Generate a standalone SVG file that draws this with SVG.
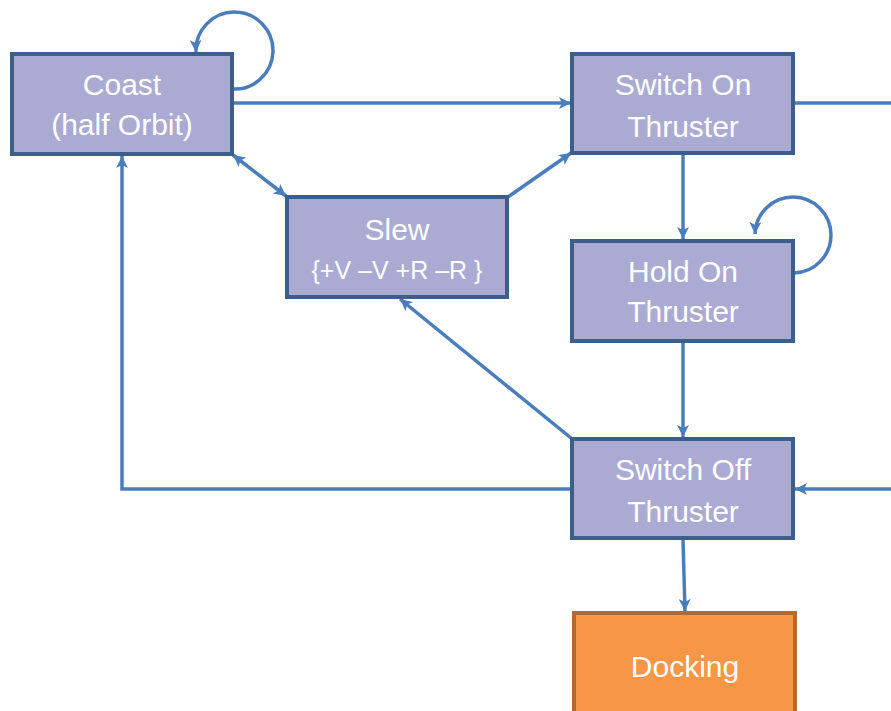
<svg xmlns="http://www.w3.org/2000/svg" width="891" height="711" viewBox="0 0 891 711">
<defs>
<marker id="ah" markerUnits="userSpaceOnUse" markerWidth="14" markerHeight="12" refX="12" refY="6" orient="auto-start-reverse">
<path d="M0,0 L12,6 L0,12 L3,6 Z" fill="#4A7EBB"/>
</marker>
</defs>
<style>
.node rect{fill:#AAAAD2;stroke:#3B5E8C;stroke-width:4}
.dock rect{fill:#F79646;stroke:#B5692F;stroke-width:4}
text{font-family:"Liberation Sans",Arial,sans-serif;font-size:30px;fill:#FFFFFF;text-anchor:middle}
.small{font-size:25px}
.conn path,.conn line{fill:none;stroke:#4A7EBB;stroke-width:3.5}
</style>
<rect width="891" height="711" fill="#FFFFFF"/>
<g class="conn" id="connectors">
<path d="M232,89 A38.5,38.5 0 1 0 196,52" marker-end="url(#ah)"/>
<line x1="234" y1="103" x2="571" y2="103" marker-end="url(#ah)"/>
<line x1="233" y1="155" x2="286" y2="196" marker-start="url(#ah)" marker-end="url(#ah)"/>
<line x1="508" y1="197" x2="571" y2="153" marker-end="url(#ah)"/>
<line x1="683" y1="155" x2="683" y2="239" marker-end="url(#ah)"/>
<path d="M794,273 A38,38 0 1 0 755,234" marker-end="url(#ah)"/>
<line x1="683" y1="343" x2="683" y2="437" marker-end="url(#ah)"/>
<line x1="571" y1="438" x2="400" y2="299" marker-end="url(#ah)"/>
<path d="M571,489 L122,489 L122,156" marker-end="url(#ah)"/>
<line x1="795" y1="103" x2="891" y2="103"/>
<line x1="891" y1="489" x2="795" y2="489" marker-end="url(#ah)"/>
<line x1="683" y1="540" x2="685" y2="611" marker-end="url(#ah)"/>
</g>
<g id="coast" class="node">
<rect x="12" y="54" width="220" height="100"/>
<text x="122" y="95">Coast</text>
<text x="122" y="135">(half Orbit)</text>
</g>
<g id="switch-on" class="node">
<rect x="572" y="54" width="221" height="99"/>
<text x="683" y="95">Switch On</text>
<text x="683" y="137">Thruster</text>
</g>
<g id="slew" class="node">
<rect x="287" y="197" width="220" height="100"/>
<text x="397" y="240">Slew</text>
<text class="small" x="397" y="279">{+V –V +R –R }</text>
</g>
<g id="hold-on" class="node">
<rect x="572" y="241" width="221" height="100"/>
<text x="683" y="282">Hold On</text>
<text x="683" y="322">Thruster</text>
</g>
<g id="switch-off" class="node">
<rect x="572" y="439" width="221" height="99"/>
<text x="683" y="480">Switch Off</text>
<text x="683" y="522">Thruster</text>
</g>
<g id="docking" class="dock">
<rect x="574" y="613" width="221" height="110"/>
<text x="685" y="677">Docking</text>
</g>
</svg>
